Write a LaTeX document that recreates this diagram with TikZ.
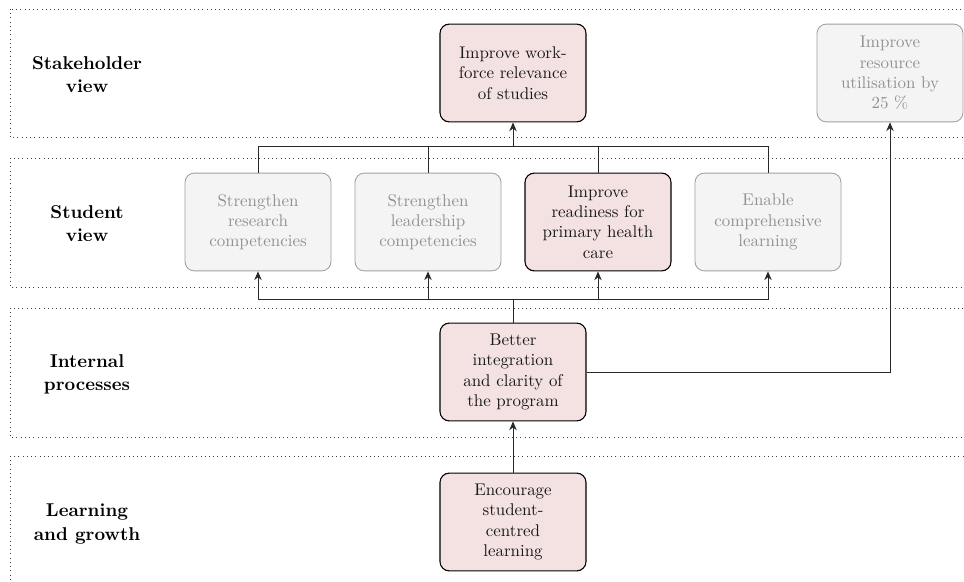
\documentclass[tikz,border=0pt]{standalone}
\usetikzlibrary{arrows.meta}

\definecolor{pinkfill}{RGB}{244,226,226}
\definecolor{greyfill}{RGB}{244,244,244}
\definecolor{greyline}{RGB}{160,160,160}
\definecolor{greytext}{RGB}{145,145,145}
\definecolor{linkcol}{RGB}{40,40,40}

\tikzset{
  layer/.style={draw=black!75, dotted, line width=0.5pt},
  layerlabel/.style={font=\fontsize{10.95}{13.6}\selectfont\bfseries, align=center},
  goal/.style={rectangle, rounded corners=5.5pt, minimum width=3.03cm,
    minimum height=2.03cm, align=center, inner sep=2pt,
    font=\fontsize{10}{12}\selectfont},
  focus/.style={goal, draw=black, line width=0.65pt, fill=pinkfill, text=black!90},
  muted/.style={goal, draw=greyline, line width=0.5pt, fill=greyfill, text=greytext},
  link/.style={draw=linkcol, line width=0.55pt},
  arrowlink/.style={link, -{Stealth[length=5.2pt,width=4.4pt]}}
}

\begin{document}
\begin{tikzpicture}[x=0.020747cm, y=-0.020747cm]
  \useasboundingbox (0,0) rectangle (964,582);

  % perspective bands
  \draw[layer] (10,9)   rectangle (980,137);
  \draw[layer] (10,158) rectangle (980,287);
  \draw[layer] (10,308) rectangle (980,437);
  \draw[layer] (10,456) rectangle (980,600);

  \node[layerlabel] (lstake) at (87,75)  {Stakeholder\\view};
  \node[layerlabel] (lstud)  at (87,224) {Student\\view};
  \node[layerlabel] (lproc)  at (87,374) {Internal\\processes};
  \node[layerlabel] (llearn) at (87,524) {Learning\\and growth};

  % objectives
  \node[focus] (work) at (513,73) {Improve work-\\force relevance\\of studies};
  \node[muted] (res)  at (890,73) {Improve\\resource\\utilisation by\\25 \%};

  \node[muted] (s1) at (258,222) {Strengthen\\research\\competencies};
  \node[muted] (s2) at (428,222) {Strengthen\\leadership\\competencies};
  \node[focus] (s3) at (598,222) {Improve\\readiness for\\primary health\\care};
  \node[muted] (s4) at (768,222) {Enable\\comprehensive\\learning};

  \node[focus] (bi)  at (513,372) {Better\\integration\\and clarity of\\the program};
  \node[focus] (enc) at (513,522) {Encourage\\student-\\centred\\learning};

  % junctions of the bus lines
  \coordinate (jtop) at (513,146);
  \coordinate (jbot) at (513,299);

  % student view to stakeholder view
  \draw[link] (s1.north) |- (jtop);
  \draw[link] (s4.north) |- (jtop);
  \draw[link] (s2.north) -- (s2.north |- jtop);
  \draw[link] (s3.north) -- (s3.north |- jtop);
  \draw[arrowlink] (jtop) -- (work.south);

  % internal processes to student view
  \draw[link] (bi.north) -- (jbot);
  \draw[arrowlink] (jbot) -| (s1.south);
  \draw[arrowlink] (jbot) -| (s4.south);
  \draw[arrowlink] (s2.south |- jbot) -- (s2.south);
  \draw[arrowlink] (s3.south |- jbot) -- (s3.south);

  % remaining links
  \draw[arrowlink] (bi.east) -| (res.south);
  \draw[arrowlink] (enc.north) -- (bi.south);
\end{tikzpicture}
\end{document}
